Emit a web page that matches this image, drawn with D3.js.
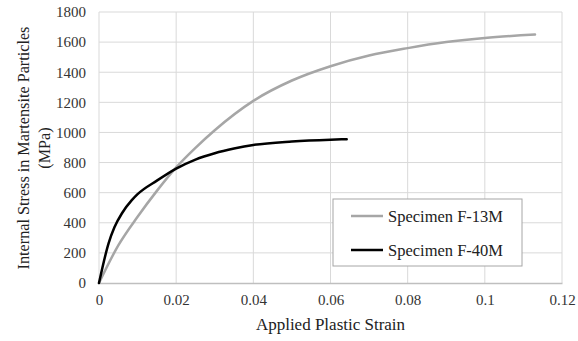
<!DOCTYPE html>
<html>
<head>
<meta charset="utf-8">
<script src="https://cdn.jsdelivr.net/npm/d3@7/dist/d3.min.js"></script>
<style>
  body { margin: 0; background: #fff; }
  svg { display: block; }
  svg text { font-family: 'Liberation Serif', 'Times New Roman', serif; }
</style>
</head>
<body>
<div id="chart"></div>
<script>
// values
const strainF13 = [0, 0.005, 0.01, 0.015, 0.02, 0.025, 0.03, 0.04, 0.05, 0.06, 0.07, 0.08, 0.09, 0.1, 0.113];
const stressF13 = [0, 250, 440, 612, 768, 898, 1015, 1210, 1345, 1440, 1511, 1560, 1600, 1628, 1650];

const strainF40 = [0, 0.0025, 0.004, 0.006, 0.0085, 0.01, 0.015, 0.02, 0.025, 0.03, 0.035, 0.04, 0.05, 0.06, 0.0642];
const stressF40 = [0, 265, 370, 465, 550, 590, 680, 760, 820, 862, 893, 917, 940, 952, 955];

const seriesNames = ['Specimen F-13M', 'Specimen F-40M'];
const seriesColors = ['#a6a6a6', '#000000'];

const xTicks = [0, 0.02, 0.04, 0.06, 0.08, 0.1, 0.12];
const yTicks = [0, 200, 400, 600, 800, 1000, 1200, 1400, 1600, 1800];

const width = 578;
const height = 341;
const margin = { top: 12, right: 16, bottom: 58, left: 99 };
const graphWidth = width - margin.left - margin.right;
const graphHeight = height - margin.top - margin.bottom;

const serif = "'Liberation Serif', 'Times New Roman', serif";

const svg = d3.select('#chart')
  .append('svg')
  .attr('width', width)
  .attr('height', height);

const graph = svg.append('g')
  .attr('transform', `translate(${margin.left}, ${margin.top})`);

const x = d3.scaleLinear().domain([0, 0.12]).range([0, graphWidth]);
const y = d3.scaleLinear().domain([0, 1800]).range([graphHeight, 0]);

// gridlines
graph.append('g')
  .selectAll('line')
  .data(yTicks.slice(1))
  .enter()
  .append('line')
  .attr('x1', 0)
  .attr('x2', graphWidth)
  .attr('y1', (d) => y(d))
  .attr('y2', (d) => y(d))
  .attr('stroke', '#d9d9d9')
  .attr('stroke-width', 1);

graph.append('g')
  .selectAll('line')
  .data(xTicks)
  .enter()
  .append('line')
  .attr('x1', (d) => x(d))
  .attr('x2', (d) => x(d))
  .attr('y1', 0)
  .attr('y2', graphHeight)
  .attr('stroke', '#d9d9d9')
  .attr('stroke-width', 1);

// axes
const xAxis = d3.axisBottom(x)
  .tickValues(xTicks)
  .tickSize(0)
  .tickPadding(11)
  .tickFormat((d) => String(+d.toFixed(2)));
const yAxis = d3.axisLeft(y)
  .tickValues(yTicks)
  .tickSize(0)
  .tickPadding(13)
  .tickFormat(d3.format('d'));

const xAxisGroup = graph.append('g')
  .attr('transform', `translate(0, ${graphHeight})`)
  .call(xAxis);
const yAxisGroup = graph.append('g').call(yAxis);

xAxisGroup.select('.domain').attr('stroke', '#bfbfbf').attr('stroke-width', 1.5);
yAxisGroup.select('.domain').remove();

[xAxisGroup, yAxisGroup].forEach((g) => {
  g.attr('font-family', serif).attr('font-size', 15);
  g.selectAll('text').attr('fill', '#333');
});

// lines
const line = d3.line()
  .x((d) => x(d[0]))
  .y((d) => y(d[1]))
  .curve(d3.curveMonotoneX);

const seriesData = [
  d3.zip(strainF13, stressF13),
  d3.zip(strainF40, stressF40),
];

graph.selectAll('path.series')
  .data(seriesData)
  .enter()
  .append('path')
  .attr('class', 'series')
  .attr('fill', 'none')
  .attr('stroke', (d, i) => seriesColors[i])
  .attr('stroke-width', 2.5)
  .attr('stroke-linejoin', 'round')
  .attr('stroke-linecap', 'round')
  .attr('d', line);

// axis titles
svg.append('text')
  .attr('x', margin.left + graphWidth / 2)
  .attr('y', 330)
  .attr('text-anchor', 'middle')
  .attr('font-size', 17)
  .attr('fill', '#222')
  .text('Applied Plastic Strain');

const yTitle = svg.append('text')
  .attr('transform', 'translate(0, 148) rotate(-90)')
  .attr('text-anchor', 'middle')
  .attr('font-size', 16.2)
  .attr('fill', '#222');
yTitle.append('tspan').attr('x', 0).attr('y', 29).text('Internal Stress in Martensite Particles');
yTitle.append('tspan').attr('x', 0).attr('y', 50).text('(MPa)');

// legend
const legend = svg.append('g').attr('transform', 'translate(333, 199)');
legend.append('rect')
  .attr('width', 189)
  .attr('height', 67)
  .attr('fill', '#fff')
  .attr('stroke', '#a6a6a6')
  .attr('stroke-width', 1);

const items = legend.selectAll('g.item')
  .data(seriesNames)
  .enter()
  .append('g')
  .attr('class', 'item')
  .attr('transform', (d, i) => `translate(0, ${17 + i * 34})`);

items.append('line')
  .attr('x1', 18)
  .attr('x2', 50)
  .attr('stroke', (d, i) => seriesColors[i])
  .attr('stroke-width', 2.5);

items.append('text')
  .attr('x', 55)
  .attr('dy', '0.35em')
  .attr('font-size', 16.5)
  .attr('fill', '#222')
  .text((d) => d);
</script>
</body>
</html>
